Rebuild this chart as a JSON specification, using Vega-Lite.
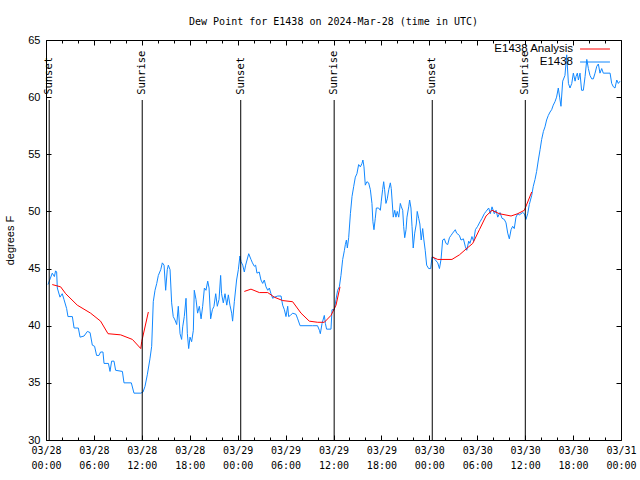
{
  "$schema": "https://vega.github.io/schema/vega-lite/v6.json",
  "width": 575,
  "height": 400,
  "autosize": {"type": "none"},
  "padding": {"left": 46, "top": 40, "right": 19, "bottom": 40},
  "background": "white",
  "config": {
    "view": {"stroke": "black", "strokeWidth": 1},
    "axis": {"domain": false, "grid": false, "tickColor": "black", "labelColor": "black", "titleColor": "black"}
  },
  "title": {
    "text": "Dew Point for E1438 on 2024-Mar-28 (time in UTC)",
    "font": "DejaVu Sans Mono",
    "fontSize": 10,
    "fontWeight": "normal",
    "color": "black",
    "anchor": "middle",
    "baseline": "bottom",
    "frame": "group",
    "offset": -3
  },
  "datasets": {
    "blue": [
      {"time": "2024-03-28T00:15:00Z", "dewpoint": 43.6},
      {"time": "2024-03-28T00:47:00Z", "dewpoint": 44.6},
      {"time": "2024-03-28T01:03:00Z", "dewpoint": 44.3},
      {"time": "2024-03-28T01:12:00Z", "dewpoint": 44.8},
      {"time": "2024-03-28T01:20:00Z", "dewpoint": 44.7},
      {"time": "2024-03-28T01:25:00Z", "dewpoint": 43.3},
      {"time": "2024-03-28T01:45:00Z", "dewpoint": 42.5},
      {"time": "2024-03-28T02:02:00Z", "dewpoint": 42.8},
      {"time": "2024-03-28T02:15:00Z", "dewpoint": 42.3},
      {"time": "2024-03-28T02:35:00Z", "dewpoint": 41.5},
      {"time": "2024-03-28T02:45:00Z", "dewpoint": 40.8},
      {"time": "2024-03-28T03:18:00Z", "dewpoint": 40.8},
      {"time": "2024-03-28T03:31:00Z", "dewpoint": 39.8},
      {"time": "2024-03-28T04:03:00Z", "dewpoint": 39.8},
      {"time": "2024-03-28T04:16:00Z", "dewpoint": 39.0},
      {"time": "2024-03-28T04:46:00Z", "dewpoint": 39.1},
      {"time": "2024-03-28T05:11:00Z", "dewpoint": 39.5},
      {"time": "2024-03-28T05:31:00Z", "dewpoint": 39.4},
      {"time": "2024-03-28T05:48:00Z", "dewpoint": 38.3},
      {"time": "2024-03-28T06:05:00Z", "dewpoint": 38.2},
      {"time": "2024-03-28T06:20:00Z", "dewpoint": 37.4},
      {"time": "2024-03-28T06:38:00Z", "dewpoint": 37.4},
      {"time": "2024-03-28T06:50:00Z", "dewpoint": 37.7},
      {"time": "2024-03-28T07:08:00Z", "dewpoint": 37.7},
      {"time": "2024-03-28T07:16:00Z", "dewpoint": 36.7},
      {"time": "2024-03-28T07:49:00Z", "dewpoint": 36.7},
      {"time": "2024-03-28T08:01:00Z", "dewpoint": 36.0},
      {"time": "2024-03-28T08:13:00Z", "dewpoint": 36.9},
      {"time": "2024-03-28T08:31:00Z", "dewpoint": 36.9},
      {"time": "2024-03-28T08:43:00Z", "dewpoint": 36.1},
      {"time": "2024-03-28T09:34:00Z", "dewpoint": 36.0},
      {"time": "2024-03-28T09:46:00Z", "dewpoint": 35.0},
      {"time": "2024-03-28T10:41:00Z", "dewpoint": 35.0},
      {"time": "2024-03-28T11:01:00Z", "dewpoint": 34.1},
      {"time": "2024-03-28T11:52:00Z", "dewpoint": 34.1},
      {"time": "2024-03-28T12:09:00Z", "dewpoint": 34.2},
      {"time": "2024-03-28T12:24:00Z", "dewpoint": 34.7},
      {"time": "2024-03-28T12:41:00Z", "dewpoint": 35.7},
      {"time": "2024-03-28T13:01:00Z", "dewpoint": 37.1},
      {"time": "2024-03-28T13:14:00Z", "dewpoint": 38.2},
      {"time": "2024-03-28T13:26:00Z", "dewpoint": 42.1},
      {"time": "2024-03-28T13:39:00Z", "dewpoint": 43.1},
      {"time": "2024-03-28T13:52:00Z", "dewpoint": 43.7},
      {"time": "2024-03-28T14:04:00Z", "dewpoint": 44.4},
      {"time": "2024-03-28T14:22:00Z", "dewpoint": 44.9},
      {"time": "2024-03-28T14:34:00Z", "dewpoint": 45.5},
      {"time": "2024-03-28T14:47:00Z", "dewpoint": 45.3},
      {"time": "2024-03-28T14:59:00Z", "dewpoint": 43.1},
      {"time": "2024-03-28T15:11:00Z", "dewpoint": 44.9},
      {"time": "2024-03-28T15:19:00Z", "dewpoint": 45.3},
      {"time": "2024-03-28T15:32:00Z", "dewpoint": 44.9},
      {"time": "2024-03-28T15:44:00Z", "dewpoint": 42.0},
      {"time": "2024-03-28T15:56:00Z", "dewpoint": 40.8},
      {"time": "2024-03-28T16:09:00Z", "dewpoint": 40.5},
      {"time": "2024-03-28T16:22:00Z", "dewpoint": 40.1},
      {"time": "2024-03-28T16:34:00Z", "dewpoint": 41.7},
      {"time": "2024-03-28T16:47:00Z", "dewpoint": 39.3},
      {"time": "2024-03-28T16:59:00Z", "dewpoint": 38.8},
      {"time": "2024-03-28T17:07:00Z", "dewpoint": 39.9},
      {"time": "2024-03-28T17:19:00Z", "dewpoint": 40.8},
      {"time": "2024-03-28T17:32:00Z", "dewpoint": 42.4},
      {"time": "2024-03-28T17:42:00Z", "dewpoint": 39.3},
      {"time": "2024-03-28T17:52:00Z", "dewpoint": 38.0},
      {"time": "2024-03-28T18:02:00Z", "dewpoint": 39.0},
      {"time": "2024-03-28T18:14:00Z", "dewpoint": 38.6},
      {"time": "2024-03-28T18:27:00Z", "dewpoint": 39.6},
      {"time": "2024-03-28T18:34:00Z", "dewpoint": 43.1},
      {"time": "2024-03-28T18:47:00Z", "dewpoint": 42.3},
      {"time": "2024-03-28T18:59:00Z", "dewpoint": 41.1},
      {"time": "2024-03-28T19:12:00Z", "dewpoint": 41.7},
      {"time": "2024-03-28T19:25:00Z", "dewpoint": 40.6},
      {"time": "2024-03-28T19:37:00Z", "dewpoint": 41.7},
      {"time": "2024-03-28T19:50:00Z", "dewpoint": 43.3},
      {"time": "2024-03-28T20:02:00Z", "dewpoint": 43.1},
      {"time": "2024-03-28T20:15:00Z", "dewpoint": 43.9},
      {"time": "2024-03-28T20:25:00Z", "dewpoint": 43.3},
      {"time": "2024-03-28T20:37:00Z", "dewpoint": 40.6},
      {"time": "2024-03-28T20:50:00Z", "dewpoint": 41.4},
      {"time": "2024-03-28T21:02:00Z", "dewpoint": 41.7},
      {"time": "2024-03-28T21:15:00Z", "dewpoint": 42.8},
      {"time": "2024-03-28T21:27:00Z", "dewpoint": 41.7},
      {"time": "2024-03-28T21:40:00Z", "dewpoint": 42.3},
      {"time": "2024-03-28T21:52:00Z", "dewpoint": 44.4},
      {"time": "2024-03-28T21:59:00Z", "dewpoint": 42.8},
      {"time": "2024-03-28T22:12:00Z", "dewpoint": 42.0},
      {"time": "2024-03-28T22:25:00Z", "dewpoint": 42.8},
      {"time": "2024-03-28T22:38:00Z", "dewpoint": 41.8},
      {"time": "2024-03-28T22:50:00Z", "dewpoint": 42.7},
      {"time": "2024-03-28T23:02:00Z", "dewpoint": 41.8},
      {"time": "2024-03-28T23:15:00Z", "dewpoint": 41.1},
      {"time": "2024-03-28T23:22:00Z", "dewpoint": 40.4},
      {"time": "2024-03-28T23:35:00Z", "dewpoint": 42.1},
      {"time": "2024-03-28T23:52:00Z", "dewpoint": 44.0},
      {"time": "2024-03-29T00:05:00Z", "dewpoint": 44.9},
      {"time": "2024-03-29T00:17:00Z", "dewpoint": 46.1},
      {"time": "2024-03-29T00:25:00Z", "dewpoint": 45.6},
      {"time": "2024-03-29T00:38:00Z", "dewpoint": 45.3},
      {"time": "2024-03-29T00:50:00Z", "dewpoint": 44.7},
      {"time": "2024-03-29T01:00:00Z", "dewpoint": 45.3},
      {"time": "2024-03-29T01:23:00Z", "dewpoint": 46.3},
      {"time": "2024-03-29T01:40:00Z", "dewpoint": 45.8},
      {"time": "2024-03-29T01:51:00Z", "dewpoint": 45.5},
      {"time": "2024-03-29T02:05:00Z", "dewpoint": 45.2},
      {"time": "2024-03-29T02:15:00Z", "dewpoint": 45.3},
      {"time": "2024-03-29T02:25:00Z", "dewpoint": 44.6},
      {"time": "2024-03-29T02:42:00Z", "dewpoint": 44.7},
      {"time": "2024-03-29T02:55:00Z", "dewpoint": 44.0},
      {"time": "2024-03-29T03:08:00Z", "dewpoint": 43.7},
      {"time": "2024-03-29T03:20:00Z", "dewpoint": 44.0},
      {"time": "2024-03-29T03:33:00Z", "dewpoint": 43.4},
      {"time": "2024-03-29T03:46:00Z", "dewpoint": 43.1},
      {"time": "2024-03-29T03:58:00Z", "dewpoint": 43.3},
      {"time": "2024-03-29T04:10:00Z", "dewpoint": 42.8},
      {"time": "2024-03-29T04:23:00Z", "dewpoint": 42.4},
      {"time": "2024-03-29T04:36:00Z", "dewpoint": 42.5},
      {"time": "2024-03-29T05:01:00Z", "dewpoint": 42.6},
      {"time": "2024-03-29T05:26:00Z", "dewpoint": 42.6},
      {"time": "2024-03-29T05:38:00Z", "dewpoint": 41.8},
      {"time": "2024-03-29T05:51:00Z", "dewpoint": 41.4},
      {"time": "2024-03-29T06:03:00Z", "dewpoint": 40.8},
      {"time": "2024-03-29T06:16:00Z", "dewpoint": 41.7},
      {"time": "2024-03-29T06:23:00Z", "dewpoint": 40.8},
      {"time": "2024-03-29T06:36:00Z", "dewpoint": 40.9},
      {"time": "2024-03-29T06:53:00Z", "dewpoint": 41.1},
      {"time": "2024-03-29T07:18:00Z", "dewpoint": 41.0},
      {"time": "2024-03-29T07:31:00Z", "dewpoint": 40.6},
      {"time": "2024-03-29T07:49:00Z", "dewpoint": 40.0},
      {"time": "2024-03-29T09:23:00Z", "dewpoint": 40.0},
      {"time": "2024-03-29T10:00:00Z", "dewpoint": 40.0},
      {"time": "2024-03-29T10:14:00Z", "dewpoint": 39.6},
      {"time": "2024-03-29T10:21:00Z", "dewpoint": 39.3},
      {"time": "2024-03-29T10:34:00Z", "dewpoint": 40.2},
      {"time": "2024-03-29T10:51:00Z", "dewpoint": 40.9},
      {"time": "2024-03-29T10:59:00Z", "dewpoint": 40.2},
      {"time": "2024-03-29T11:08:00Z", "dewpoint": 39.7},
      {"time": "2024-03-29T11:41:00Z", "dewpoint": 39.7},
      {"time": "2024-03-29T11:49:00Z", "dewpoint": 41.4},
      {"time": "2024-03-29T12:06:00Z", "dewpoint": 41.4},
      {"time": "2024-03-29T12:19:00Z", "dewpoint": 42.3},
      {"time": "2024-03-29T12:31:00Z", "dewpoint": 43.1},
      {"time": "2024-03-29T12:44:00Z", "dewpoint": 43.4},
      {"time": "2024-03-29T12:56:00Z", "dewpoint": 44.4},
      {"time": "2024-03-29T13:09:00Z", "dewpoint": 45.8},
      {"time": "2024-03-29T13:22:00Z", "dewpoint": 46.6},
      {"time": "2024-03-29T13:29:00Z", "dewpoint": 47.1},
      {"time": "2024-03-29T13:37:00Z", "dewpoint": 47.5},
      {"time": "2024-03-29T13:44:00Z", "dewpoint": 46.8},
      {"time": "2024-03-29T13:54:00Z", "dewpoint": 47.7},
      {"time": "2024-03-29T14:07:00Z", "dewpoint": 49.8},
      {"time": "2024-03-29T14:19:00Z", "dewpoint": 51.3},
      {"time": "2024-03-29T14:32:00Z", "dewpoint": 52.2},
      {"time": "2024-03-29T14:44:00Z", "dewpoint": 53.0},
      {"time": "2024-03-29T14:56:00Z", "dewpoint": 53.3},
      {"time": "2024-03-29T15:09:00Z", "dewpoint": 54.1},
      {"time": "2024-03-29T15:22:00Z", "dewpoint": 53.9},
      {"time": "2024-03-29T15:34:00Z", "dewpoint": 54.2},
      {"time": "2024-03-29T15:41:00Z", "dewpoint": 54.5},
      {"time": "2024-03-29T15:49:00Z", "dewpoint": 53.9},
      {"time": "2024-03-29T15:59:00Z", "dewpoint": 52.3},
      {"time": "2024-03-29T16:11:00Z", "dewpoint": 52.6},
      {"time": "2024-03-29T16:24:00Z", "dewpoint": 52.5},
      {"time": "2024-03-29T16:37:00Z", "dewpoint": 51.9},
      {"time": "2024-03-29T16:49:00Z", "dewpoint": 50.7},
      {"time": "2024-03-29T16:56:00Z", "dewpoint": 49.1},
      {"time": "2024-03-29T17:04:00Z", "dewpoint": 48.4},
      {"time": "2024-03-29T17:14:00Z", "dewpoint": 49.4},
      {"time": "2024-03-29T17:22:00Z", "dewpoint": 50.3},
      {"time": "2024-03-29T17:39:00Z", "dewpoint": 50.3},
      {"time": "2024-03-29T17:52:00Z", "dewpoint": 50.1},
      {"time": "2024-03-29T17:59:00Z", "dewpoint": 50.9},
      {"time": "2024-03-29T18:09:00Z", "dewpoint": 51.9},
      {"time": "2024-03-29T18:17:00Z", "dewpoint": 52.6},
      {"time": "2024-03-29T18:24:00Z", "dewpoint": 51.9},
      {"time": "2024-03-29T18:34:00Z", "dewpoint": 50.7},
      {"time": "2024-03-29T18:44:00Z", "dewpoint": 51.1},
      {"time": "2024-03-29T18:55:00Z", "dewpoint": 51.9},
      {"time": "2024-03-29T19:07:00Z", "dewpoint": 52.5},
      {"time": "2024-03-29T19:14:00Z", "dewpoint": 52.0},
      {"time": "2024-03-29T19:20:00Z", "dewpoint": 51.0},
      {"time": "2024-03-29T19:29:00Z", "dewpoint": 49.5},
      {"time": "2024-03-29T19:40:00Z", "dewpoint": 50.1},
      {"time": "2024-03-29T19:49:00Z", "dewpoint": 49.5},
      {"time": "2024-03-29T19:59:00Z", "dewpoint": 50.0},
      {"time": "2024-03-29T20:10:00Z", "dewpoint": 49.5},
      {"time": "2024-03-29T20:22:00Z", "dewpoint": 50.7},
      {"time": "2024-03-29T20:30:00Z", "dewpoint": 50.4},
      {"time": "2024-03-29T20:40:00Z", "dewpoint": 50.1},
      {"time": "2024-03-29T20:47:00Z", "dewpoint": 48.7},
      {"time": "2024-03-29T20:55:00Z", "dewpoint": 47.7},
      {"time": "2024-03-29T21:05:00Z", "dewpoint": 48.4},
      {"time": "2024-03-29T21:12:00Z", "dewpoint": 49.5},
      {"time": "2024-03-29T21:25:00Z", "dewpoint": 50.4},
      {"time": "2024-03-29T21:32:00Z", "dewpoint": 51.0},
      {"time": "2024-03-29T21:42:00Z", "dewpoint": 50.3},
      {"time": "2024-03-29T21:50:00Z", "dewpoint": 48.7},
      {"time": "2024-03-29T21:59:00Z", "dewpoint": 46.8},
      {"time": "2024-03-29T22:10:00Z", "dewpoint": 48.1},
      {"time": "2024-03-29T22:22:00Z", "dewpoint": 48.9},
      {"time": "2024-03-29T22:29:00Z", "dewpoint": 50.0},
      {"time": "2024-03-29T22:40:00Z", "dewpoint": 49.4},
      {"time": "2024-03-29T22:49:00Z", "dewpoint": 48.9},
      {"time": "2024-03-29T22:59:00Z", "dewpoint": 47.5},
      {"time": "2024-03-29T23:10:00Z", "dewpoint": 48.5},
      {"time": "2024-03-29T23:19:00Z", "dewpoint": 47.5},
      {"time": "2024-03-29T23:29:00Z", "dewpoint": 46.6},
      {"time": "2024-03-29T23:40:00Z", "dewpoint": 45.3},
      {"time": "2024-03-29T23:55:00Z", "dewpoint": 45.0},
      {"time": "2024-03-30T00:10:00Z", "dewpoint": 45.0},
      {"time": "2024-03-30T00:20:00Z", "dewpoint": 46.0},
      {"time": "2024-03-30T00:30:00Z", "dewpoint": 46.0},
      {"time": "2024-03-30T00:42:00Z", "dewpoint": 45.8},
      {"time": "2024-03-30T01:03:00Z", "dewpoint": 45.5},
      {"time": "2024-03-30T01:16:00Z", "dewpoint": 45.0},
      {"time": "2024-03-30T01:28:00Z", "dewpoint": 45.8},
      {"time": "2024-03-30T01:40:00Z", "dewpoint": 47.5},
      {"time": "2024-03-30T01:53:00Z", "dewpoint": 47.6},
      {"time": "2024-03-30T02:05:00Z", "dewpoint": 47.2},
      {"time": "2024-03-30T02:18:00Z", "dewpoint": 47.1},
      {"time": "2024-03-30T02:31:00Z", "dewpoint": 47.7},
      {"time": "2024-03-30T02:43:00Z", "dewpoint": 47.9},
      {"time": "2024-03-30T02:55:00Z", "dewpoint": 48.1},
      {"time": "2024-03-30T03:15:00Z", "dewpoint": 48.4},
      {"time": "2024-03-30T03:25:00Z", "dewpoint": 48.1},
      {"time": "2024-03-30T03:46:00Z", "dewpoint": 47.9},
      {"time": "2024-03-30T03:58:00Z", "dewpoint": 47.5},
      {"time": "2024-03-30T04:16:00Z", "dewpoint": 47.6},
      {"time": "2024-03-30T04:31:00Z", "dewpoint": 46.9},
      {"time": "2024-03-30T04:41:00Z", "dewpoint": 46.6},
      {"time": "2024-03-30T04:56:00Z", "dewpoint": 47.4},
      {"time": "2024-03-30T05:05:00Z", "dewpoint": 47.2},
      {"time": "2024-03-30T05:20:00Z", "dewpoint": 47.8},
      {"time": "2024-03-30T05:33:00Z", "dewpoint": 47.4},
      {"time": "2024-03-30T05:46:00Z", "dewpoint": 48.4},
      {"time": "2024-03-30T06:03:00Z", "dewpoint": 48.7},
      {"time": "2024-03-30T06:21:00Z", "dewpoint": 49.1},
      {"time": "2024-03-30T06:36:00Z", "dewpoint": 49.4},
      {"time": "2024-03-30T06:53:00Z", "dewpoint": 49.8},
      {"time": "2024-03-30T07:06:00Z", "dewpoint": 50.0},
      {"time": "2024-03-30T07:26:00Z", "dewpoint": 50.3},
      {"time": "2024-03-30T07:38:00Z", "dewpoint": 49.8},
      {"time": "2024-03-30T07:51:00Z", "dewpoint": 50.4},
      {"time": "2024-03-30T08:08:00Z", "dewpoint": 49.8},
      {"time": "2024-03-30T08:21:00Z", "dewpoint": 50.1},
      {"time": "2024-03-30T08:34:00Z", "dewpoint": 49.5},
      {"time": "2024-03-30T08:51:00Z", "dewpoint": 49.9},
      {"time": "2024-03-30T09:06:00Z", "dewpoint": 49.4},
      {"time": "2024-03-30T09:23:00Z", "dewpoint": 49.3},
      {"time": "2024-03-30T09:36:00Z", "dewpoint": 49.0},
      {"time": "2024-03-30T09:49:00Z", "dewpoint": 48.1},
      {"time": "2024-03-30T10:01:00Z", "dewpoint": 47.6},
      {"time": "2024-03-30T10:14:00Z", "dewpoint": 48.4},
      {"time": "2024-03-30T10:26:00Z", "dewpoint": 48.7},
      {"time": "2024-03-30T10:38:00Z", "dewpoint": 48.5},
      {"time": "2024-03-30T10:51:00Z", "dewpoint": 49.5},
      {"time": "2024-03-30T11:04:00Z", "dewpoint": 49.8},
      {"time": "2024-03-30T11:16:00Z", "dewpoint": 49.7},
      {"time": "2024-03-30T11:41:00Z", "dewpoint": 49.9},
      {"time": "2024-03-30T11:54:00Z", "dewpoint": 49.8},
      {"time": "2024-03-30T12:06:00Z", "dewpoint": 49.3},
      {"time": "2024-03-30T12:19:00Z", "dewpoint": 49.8},
      {"time": "2024-03-30T12:31:00Z", "dewpoint": 50.6},
      {"time": "2024-03-30T12:49:00Z", "dewpoint": 51.4},
      {"time": "2024-03-30T13:01:00Z", "dewpoint": 52.2},
      {"time": "2024-03-30T13:14:00Z", "dewpoint": 52.8},
      {"time": "2024-03-30T13:26:00Z", "dewpoint": 53.5},
      {"time": "2024-03-30T13:39:00Z", "dewpoint": 54.5},
      {"time": "2024-03-30T13:52:00Z", "dewpoint": 55.4},
      {"time": "2024-03-30T14:04:00Z", "dewpoint": 56.3},
      {"time": "2024-03-30T14:17:00Z", "dewpoint": 57.0},
      {"time": "2024-03-30T14:29:00Z", "dewpoint": 57.4},
      {"time": "2024-03-30T14:41:00Z", "dewpoint": 58.0},
      {"time": "2024-03-30T14:54:00Z", "dewpoint": 58.4},
      {"time": "2024-03-30T15:07:00Z", "dewpoint": 58.7},
      {"time": "2024-03-30T15:19:00Z", "dewpoint": 58.9},
      {"time": "2024-03-30T15:31:00Z", "dewpoint": 59.3},
      {"time": "2024-03-30T15:44:00Z", "dewpoint": 59.6},
      {"time": "2024-03-30T15:56:00Z", "dewpoint": 60.0},
      {"time": "2024-03-30T16:09:00Z", "dewpoint": 60.8},
      {"time": "2024-03-30T16:19:00Z", "dewpoint": 60.0},
      {"time": "2024-03-30T16:29:00Z", "dewpoint": 59.2},
      {"time": "2024-03-30T16:42:00Z", "dewpoint": 61.4},
      {"time": "2024-03-30T16:59:00Z", "dewpoint": 61.9},
      {"time": "2024-03-30T17:12:00Z", "dewpoint": 63.7},
      {"time": "2024-03-30T17:25:00Z", "dewpoint": 61.2},
      {"time": "2024-03-30T17:37:00Z", "dewpoint": 60.8},
      {"time": "2024-03-30T17:50:00Z", "dewpoint": 61.2},
      {"time": "2024-03-30T18:02:00Z", "dewpoint": 62.1},
      {"time": "2024-03-30T18:15:00Z", "dewpoint": 61.4},
      {"time": "2024-03-30T18:22:00Z", "dewpoint": 61.8},
      {"time": "2024-03-30T18:32:00Z", "dewpoint": 62.1},
      {"time": "2024-03-30T18:40:00Z", "dewpoint": 61.5},
      {"time": "2024-03-30T18:52:00Z", "dewpoint": 62.1},
      {"time": "2024-03-30T19:04:00Z", "dewpoint": 60.6},
      {"time": "2024-03-30T19:17:00Z", "dewpoint": 60.6},
      {"time": "2024-03-30T19:30:00Z", "dewpoint": 61.8},
      {"time": "2024-03-30T19:43:00Z", "dewpoint": 63.3},
      {"time": "2024-03-30T19:55:00Z", "dewpoint": 62.5},
      {"time": "2024-03-30T20:07:00Z", "dewpoint": 61.9},
      {"time": "2024-03-30T20:20:00Z", "dewpoint": 61.6},
      {"time": "2024-03-30T20:32:00Z", "dewpoint": 61.6},
      {"time": "2024-03-30T20:45:00Z", "dewpoint": 62.1},
      {"time": "2024-03-30T20:58:00Z", "dewpoint": 62.7},
      {"time": "2024-03-30T21:10:00Z", "dewpoint": 62.9},
      {"time": "2024-03-30T21:22:00Z", "dewpoint": 62.1},
      {"time": "2024-03-30T21:35:00Z", "dewpoint": 62.5},
      {"time": "2024-03-30T21:47:00Z", "dewpoint": 62.1},
      {"time": "2024-03-30T22:38:00Z", "dewpoint": 62.1},
      {"time": "2024-03-30T22:50:00Z", "dewpoint": 61.2},
      {"time": "2024-03-30T23:03:00Z", "dewpoint": 60.9},
      {"time": "2024-03-30T23:15:00Z", "dewpoint": 60.8},
      {"time": "2024-03-30T23:28:00Z", "dewpoint": 61.5},
      {"time": "2024-03-30T23:40:00Z", "dewpoint": 61.2},
      {"time": "2024-03-30T23:53:00Z", "dewpoint": 61.4}
    ],
    "red": [
      {"time": "2024-03-28T00:47:00Z", "dewpoint": 43.6, "seg": 1},
      {"time": "2024-03-28T01:50:00Z", "dewpoint": 43.4, "seg": 1},
      {"time": "2024-03-28T02:28:00Z", "dewpoint": 42.8, "seg": 1},
      {"time": "2024-03-28T03:55:00Z", "dewpoint": 41.8, "seg": 1},
      {"time": "2024-03-28T05:35:00Z", "dewpoint": 41.1, "seg": 1},
      {"time": "2024-03-28T06:50:00Z", "dewpoint": 40.4, "seg": 1},
      {"time": "2024-03-28T07:46:00Z", "dewpoint": 39.3, "seg": 1},
      {"time": "2024-03-28T09:21:00Z", "dewpoint": 39.2, "seg": 1},
      {"time": "2024-03-28T10:49:00Z", "dewpoint": 38.8, "seg": 1},
      {"time": "2024-03-28T11:52:00Z", "dewpoint": 38.0, "seg": 1},
      {"time": "2024-03-28T11:59:00Z", "dewpoint": 38.6, "seg": 1},
      {"time": "2024-03-28T12:49:00Z", "dewpoint": 41.2, "seg": 1},
      {"time": "2024-03-29T00:50:00Z", "dewpoint": 43.0, "seg": 2},
      {"time": "2024-03-29T01:40:00Z", "dewpoint": 43.2, "seg": 2},
      {"time": "2024-03-29T02:43:00Z", "dewpoint": 42.9, "seg": 2},
      {"time": "2024-03-29T03:46:00Z", "dewpoint": 42.9, "seg": 2},
      {"time": "2024-03-29T04:35:00Z", "dewpoint": 42.5, "seg": 2},
      {"time": "2024-03-29T05:38:00Z", "dewpoint": 42.2, "seg": 2},
      {"time": "2024-03-29T06:53:00Z", "dewpoint": 42.1, "seg": 2},
      {"time": "2024-03-29T07:56:00Z", "dewpoint": 41.1, "seg": 2},
      {"time": "2024-03-29T08:58:00Z", "dewpoint": 40.4, "seg": 2},
      {"time": "2024-03-29T10:01:00Z", "dewpoint": 40.3, "seg": 2},
      {"time": "2024-03-29T10:51:00Z", "dewpoint": 40.3, "seg": 2},
      {"time": "2024-03-29T11:41:00Z", "dewpoint": 40.9, "seg": 2},
      {"time": "2024-03-29T12:19:00Z", "dewpoint": 41.8, "seg": 2},
      {"time": "2024-03-29T12:49:00Z", "dewpoint": 43.4, "seg": 2},
      {"time": "2024-03-30T00:25:00Z", "dewpoint": 46.0, "seg": 3},
      {"time": "2024-03-30T01:03:00Z", "dewpoint": 45.8, "seg": 3},
      {"time": "2024-03-30T02:50:00Z", "dewpoint": 45.8, "seg": 3},
      {"time": "2024-03-30T03:46:00Z", "dewpoint": 46.2, "seg": 3},
      {"time": "2024-03-30T04:35:00Z", "dewpoint": 46.7, "seg": 3},
      {"time": "2024-03-30T05:26:00Z", "dewpoint": 47.2, "seg": 3},
      {"time": "2024-03-30T06:16:00Z", "dewpoint": 48.4, "seg": 3},
      {"time": "2024-03-30T07:06:00Z", "dewpoint": 49.6, "seg": 3},
      {"time": "2024-03-30T07:51:00Z", "dewpoint": 50.1, "seg": 3},
      {"time": "2024-03-30T08:46:00Z", "dewpoint": 49.8, "seg": 3},
      {"time": "2024-03-30T10:14:00Z", "dewpoint": 49.6, "seg": 3},
      {"time": "2024-03-30T11:04:00Z", "dewpoint": 49.8, "seg": 3},
      {"time": "2024-03-30T11:54:00Z", "dewpoint": 50.1, "seg": 3},
      {"time": "2024-03-30T12:49:00Z", "dewpoint": 51.7, "seg": 3}
    ],
    "sun": [
      {"time": "2024-03-28T00:24:00Z", "event": "Sunset"},
      {"time": "2024-03-28T12:03:00Z", "event": "Sunrise"},
      {"time": "2024-03-29T00:23:00Z", "event": "Sunset"},
      {"time": "2024-03-29T12:05:00Z", "event": "Sunrise"},
      {"time": "2024-03-30T00:22:00Z", "event": "Sunset"},
      {"time": "2024-03-30T12:01:00Z", "event": "Sunrise"}
    ]
  },
  "resolve": {"axis": {"x": "independent", "y": "independent"}},
  "layer": [
    {
      "data": {"name": "blue"},
      "mark": {"type": "line", "strokeWidth": 1, "interpolate": "linear"},
      "encoding": {
        "x": {
          "field": "time", "type": "temporal",
          "scale": {"type": "utc", "domain": [
            {"year": 2024, "month": 3, "date": 28, "utc": true},
            {"year": 2024, "month": 3, "date": 31, "utc": true}
          ]},
          "axis": {
            "orient": "bottom", "title": null,
            "values": [
              {"year": 2024, "month": 3, "date": 28, "hours": 0, "utc": true},
              {"year": 2024, "month": 3, "date": 28, "hours": 6, "utc": true},
              {"year": 2024, "month": 3, "date": 28, "hours": 12, "utc": true},
              {"year": 2024, "month": 3, "date": 28, "hours": 18, "utc": true},
              {"year": 2024, "month": 3, "date": 29, "hours": 0, "utc": true},
              {"year": 2024, "month": 3, "date": 29, "hours": 6, "utc": true},
              {"year": 2024, "month": 3, "date": 29, "hours": 12, "utc": true},
              {"year": 2024, "month": 3, "date": 29, "hours": 18, "utc": true},
              {"year": 2024, "month": 3, "date": 30, "hours": 0, "utc": true},
              {"year": 2024, "month": 3, "date": 30, "hours": 6, "utc": true},
              {"year": 2024, "month": 3, "date": 30, "hours": 12, "utc": true},
              {"year": 2024, "month": 3, "date": 30, "hours": 18, "utc": true},
              {"year": 2024, "month": 3, "date": 31, "hours": 0, "utc": true}
            ],
            "tickSize": -5, "labelPadding": 10,
            "labelFlush": false, "labelOverlap": false,
            "labelFont": "DejaVu Sans Mono", "labelFontSize": 10, "labelLineHeight": 15,
            "labelExpr": "[utcFormat(datum.value, '%m/%d'), utcFormat(datum.value, '%H:%M')]"
          }
        },
        "y": {
          "field": "dewpoint", "type": "quantitative",
          "scale": {"domain": [30, 65], "nice": false, "zero": false},
          "axis": {
            "orient": "left", "values": [30, 35, 40, 45, 50, 55, 60, 65],
            "tickSize": -5, "labelPadding": 11,
            "labelFont": "Liberation Sans", "labelFontSize": 11,
            "title": "degrees F", "titleFont": "Liberation Sans", "titleFontSize": 11,
            "titleFontWeight": "normal", "titleX": -36, "titleY": 200, "titleAngle": 270,
            "titleAlign": "center", "titleBaseline": "middle"
          }
        },
        "color": {
          "datum": "E1438",
          "scale": {"domain": ["E1438 Analysis", "E1438"], "range": ["#ff0000", "#1188ff"]},
          "legend": {
            "orient": "none", "legendX": 542, "legendY": 2, "direction": "vertical",
            "title": null, "padding": 0, "symbolType": "M-2.3,0H2.3", "symbolSize": 169,
            "symbolStrokeWidth": 1, "labelAlign": "right", "labelOffset": -29,
            "labelFont": "Liberation Sans", "labelFontSize": 11.5, "rowPadding": 0
          }
        }
      }
    },
    {
      "data": {"name": "red"},
      "mark": {"type": "line", "strokeWidth": 1},
      "encoding": {
        "x": {
          "field": "time", "type": "temporal",
          "axis": {
            "orient": "top", "title": null, "labels": false, "tickSize": -5,
            "values": [
              {"year": 2024, "month": 3, "date": 28, "hours": 0, "utc": true},
              {"year": 2024, "month": 3, "date": 28, "hours": 6, "utc": true},
              {"year": 2024, "month": 3, "date": 28, "hours": 12, "utc": true},
              {"year": 2024, "month": 3, "date": 28, "hours": 18, "utc": true},
              {"year": 2024, "month": 3, "date": 29, "hours": 0, "utc": true},
              {"year": 2024, "month": 3, "date": 29, "hours": 6, "utc": true},
              {"year": 2024, "month": 3, "date": 29, "hours": 12, "utc": true},
              {"year": 2024, "month": 3, "date": 29, "hours": 18, "utc": true},
              {"year": 2024, "month": 3, "date": 30, "hours": 0, "utc": true},
              {"year": 2024, "month": 3, "date": 30, "hours": 6, "utc": true},
              {"year": 2024, "month": 3, "date": 30, "hours": 12, "utc": true},
              {"year": 2024, "month": 3, "date": 30, "hours": 18, "utc": true},
              {"year": 2024, "month": 3, "date": 31, "hours": 0, "utc": true}
            ]
          }
        },
        "y": {
          "field": "dewpoint", "type": "quantitative",
          "axis": {"orient": "right", "title": null, "labels": false,
                   "values": [30, 35, 40, 45, 50, 55, 60, 65], "tickSize": -5}
        },
        "color": {"datum": "E1438 Analysis"},
        "detail": {"field": "seg"}
      }
    },
    {
      "data": {"name": "sun"},
      "mark": {"type": "rule", "color": "black", "strokeWidth": 1},
      "encoding": {
        "x": {
          "field": "time", "type": "temporal",
          "axis": {
            "orient": "bottom", "title": null, "labels": false, "tickSize": -3,
            "values": [
              {"year": 2024, "month": 3, "date": 28, "hours": 2, "utc": true},
              {"year": 2024, "month": 3, "date": 28, "hours": 4, "utc": true},
              {"year": 2024, "month": 3, "date": 28, "hours": 8, "utc": true},
              {"year": 2024, "month": 3, "date": 28, "hours": 10, "utc": true},
              {"year": 2024, "month": 3, "date": 28, "hours": 14, "utc": true},
              {"year": 2024, "month": 3, "date": 28, "hours": 16, "utc": true},
              {"year": 2024, "month": 3, "date": 28, "hours": 20, "utc": true},
              {"year": 2024, "month": 3, "date": 28, "hours": 22, "utc": true},
              {"year": 2024, "month": 3, "date": 29, "hours": 2, "utc": true},
              {"year": 2024, "month": 3, "date": 29, "hours": 4, "utc": true},
              {"year": 2024, "month": 3, "date": 29, "hours": 8, "utc": true},
              {"year": 2024, "month": 3, "date": 29, "hours": 10, "utc": true},
              {"year": 2024, "month": 3, "date": 29, "hours": 14, "utc": true},
              {"year": 2024, "month": 3, "date": 29, "hours": 16, "utc": true},
              {"year": 2024, "month": 3, "date": 29, "hours": 20, "utc": true},
              {"year": 2024, "month": 3, "date": 29, "hours": 22, "utc": true},
              {"year": 2024, "month": 3, "date": 30, "hours": 2, "utc": true},
              {"year": 2024, "month": 3, "date": 30, "hours": 4, "utc": true},
              {"year": 2024, "month": 3, "date": 30, "hours": 8, "utc": true},
              {"year": 2024, "month": 3, "date": 30, "hours": 10, "utc": true},
              {"year": 2024, "month": 3, "date": 30, "hours": 14, "utc": true},
              {"year": 2024, "month": 3, "date": 30, "hours": 16, "utc": true},
              {"year": 2024, "month": 3, "date": 30, "hours": 20, "utc": true},
              {"year": 2024, "month": 3, "date": 30, "hours": 22, "utc": true}
            ]
          }
        },
        "y": {"datum": 59.75, "type": "quantitative", "axis": null},
        "y2": {"datum": 30}
      }
    },
    {
      "data": {"name": "sun"},
      "mark": {"type": "text", "angle": 270, "align": "left", "baseline": "middle",
               "font": "DejaVu Sans Mono", "fontSize": 10.5, "color": "black"},
      "encoding": {
        "x": {
          "field": "time", "type": "temporal",
          "axis": {
            "orient": "top", "title": null, "labels": false, "tickSize": -3,
            "values": [
              {"year": 2024, "month": 3, "date": 28, "hours": 2, "utc": true},
              {"year": 2024, "month": 3, "date": 28, "hours": 4, "utc": true},
              {"year": 2024, "month": 3, "date": 28, "hours": 8, "utc": true},
              {"year": 2024, "month": 3, "date": 28, "hours": 10, "utc": true},
              {"year": 2024, "month": 3, "date": 28, "hours": 14, "utc": true},
              {"year": 2024, "month": 3, "date": 28, "hours": 16, "utc": true},
              {"year": 2024, "month": 3, "date": 28, "hours": 20, "utc": true},
              {"year": 2024, "month": 3, "date": 28, "hours": 22, "utc": true},
              {"year": 2024, "month": 3, "date": 29, "hours": 2, "utc": true},
              {"year": 2024, "month": 3, "date": 29, "hours": 4, "utc": true},
              {"year": 2024, "month": 3, "date": 29, "hours": 8, "utc": true},
              {"year": 2024, "month": 3, "date": 29, "hours": 10, "utc": true},
              {"year": 2024, "month": 3, "date": 29, "hours": 14, "utc": true},
              {"year": 2024, "month": 3, "date": 29, "hours": 16, "utc": true},
              {"year": 2024, "month": 3, "date": 29, "hours": 20, "utc": true},
              {"year": 2024, "month": 3, "date": 29, "hours": 22, "utc": true},
              {"year": 2024, "month": 3, "date": 30, "hours": 2, "utc": true},
              {"year": 2024, "month": 3, "date": 30, "hours": 4, "utc": true},
              {"year": 2024, "month": 3, "date": 30, "hours": 8, "utc": true},
              {"year": 2024, "month": 3, "date": 30, "hours": 10, "utc": true},
              {"year": 2024, "month": 3, "date": 30, "hours": 14, "utc": true},
              {"year": 2024, "month": 3, "date": 30, "hours": 16, "utc": true},
              {"year": 2024, "month": 3, "date": 30, "hours": 20, "utc": true},
              {"year": 2024, "month": 3, "date": 30, "hours": 22, "utc": true}
            ]
          }
        },
        "y": {"datum": 60.2, "type": "quantitative", "axis": null},
        "text": {"field": "event"}
      }
    }
  ]
}
